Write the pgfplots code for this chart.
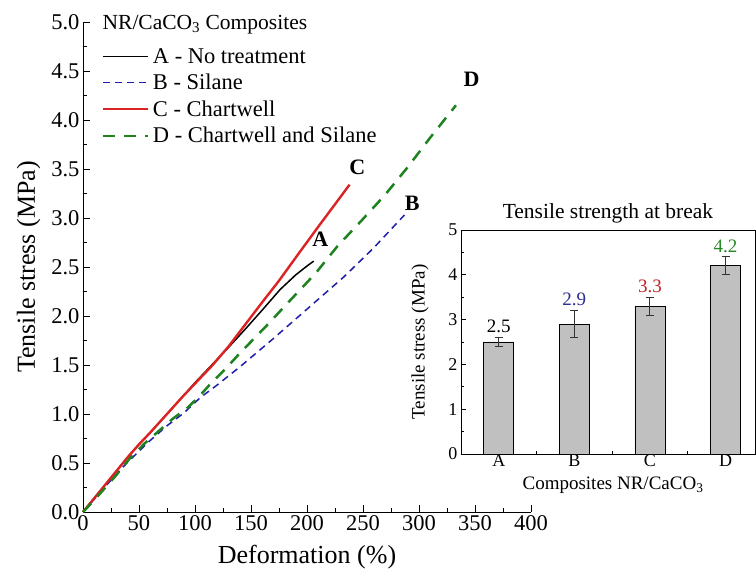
\documentclass[border=0pt]{standalone}
\usepackage{pgfplots}
\pgfplotsset{compat=1.18}
\usepackage{fontspec}
\setmainfont{Liberation Serif}

\definecolor{cA}{RGB}{0,0,0}
\definecolor{cB}{RGB}{30,30,170}
\definecolor{cC}{RGB}{220,35,35}
\definecolor{cD}{RGB}{30,130,30}
\definecolor{lblB}{RGB}{45,45,150}
\definecolor{lblC}{RGB}{190,35,35}
\definecolor{lblD}{RGB}{40,135,40}
\definecolor{bargray}{RGB}{192,192,192}

\begin{document}
\begin{tikzpicture}[x=1pt,y=1pt]
\useasboundingbox (0,0) rectangle (756,577);

% main stress-strain curves
\begin{axis}[
  at={(83pt,65pt)}, anchor=south west,
  scale only axis, width=448pt, height=490pt,
  clip=false,
  xmin=0, xmax=400, ymin=0, ymax=5,
  axis x line=bottom, axis y line=left,
  axis line style={-, line width=0.9pt},
  tick align=inside, tick style={line width=0.8pt, black},
  major tick length=7pt, minor tick length=4pt,
  xtick distance=50, ytick distance=0.5,
  minor x tick num=1, minor y tick num=1,
  /pgf/number format/assume math mode=true,
  yticklabel style={/pgf/number format/fixed, /pgf/number format/fixed zerofill, /pgf/number format/precision=1},
  ticklabel style={font=\fontsize{22.5}{24}\selectfont},
  xlabel={Deformation (\%)}, ylabel={Tensile stress (MPa)},
  label style={font=\fontsize{26}{30}\selectfont},
  xlabel style={at={(axis description cs:0.5,-0.06)}, anchor=north},
  ylabel style={at={(axis description cs:-0.087,0.5)}},
  legend style={at={(rel axis cs:0.035,0.955)}, anchor=north west, draw=none, fill=none,
    font=\fontsize{22.5}{26}\selectfont, row sep=5.5pt, nodes={inner xsep=3.5pt}},
  legend cell align=left,
  legend image code/.code={\draw[#1] (0pt,0pt) -- (45pt,0pt);},
]
\addplot[cA, line width=1.5pt] coordinates {
(0,0) (5,0.07) (10,0.14) (20,0.28) (30,0.42) (40,0.56) (50,0.69) (60,0.81)
(75,1.00) (90,1.19) (100,1.32) (115,1.50) (130,1.68) (146,1.88) (160,2.06)
(176,2.27) (190,2.42) (200,2.51) (206,2.56)};
\addlegendentry{A - No treatment}
\addplot[cB, line width=1.5pt, dash pattern=on 7pt off 5pt] coordinates {
(0,0) (10,0.13) (20,0.26) (30,0.39) (40,0.51) (50,0.62) (57,0.70) (75,0.88)
(90,1.01) (105,1.17) (118,1.28) (140,1.48) (170,1.77) (203,2.10) (233,2.40)
(260,2.70) (282,2.97) (287,3.03)};
\addlegendentry{B - Silane}
\addplot[cC, line width=2.4pt] coordinates {
(0,0) (5,0.07) (10,0.14) (20,0.28) (30,0.42) (40,0.56) (50,0.69) (60,0.81)
(75,1.00) (90,1.19) (100,1.31) (115,1.49) (130,1.69) (146,1.93) (160,2.14)
(175,2.36) (194,2.66) (210,2.91) (225,3.14) (238,3.34)};
\addlegendentry{C - Chartwell}
\addplot[cD, line width=2.5pt, dash pattern=on 12pt off 9pt] coordinates {
(0,0) (10,0.12) (20,0.25) (30,0.38) (42,0.55) (55,0.70) (69,0.84) (80,0.95)
(93,1.06) (103,1.17) (114,1.31) (128,1.47) (140,1.62) (163,1.89) (185,2.16)
(208,2.44) (227,2.71) (250,2.99) (270,3.24) (290,3.52) (310,3.82) (333,4.15)};
\addlegendentry{D - Chartwell and Silane}
\node[anchor=base west, font=\fontsize{21.5}{24}\selectfont] at (rel axis cs:0.036,0.985) {NR/CaCO\textsubscript{3} Composites};
\node[font=\fontsize{22}{24}\selectfont\bfseries] at (axis cs:212,2.78) {A};
\node[font=\fontsize{22}{24}\selectfont\bfseries] at (axis cs:294,3.15) {B};
\node[font=\fontsize{22}{24}\selectfont\bfseries] at (axis cs:245,3.52) {C};
\node[font=\fontsize{22}{24}\selectfont\bfseries] at (axis cs:347,4.42) {D};
\end{axis}

% inset: tensile strength at break
\begin{axis}[
  at={(461pt,123pt)}, anchor=south west,
  scale only axis, width=294pt, height=224pt,
  clip=false,
  xmin=-0.5, xmax=3.39, ymin=0, ymax=5,
  axis line style={line width=0.8pt},
  tick align=inside, tick style={line width=0.7pt, black},
  major tick length=5pt, minor tick length=3pt,
  xtick={0,1,2,3}, xticklabels={A,B,C,D}, minor xtick={0.5,1.5,2.5},
  ytick={0,1,2,3,4,5}, minor y tick num=1,
  xtick pos=bottom, ytick pos=left,
  /pgf/number format/assume math mode=true,
  ticklabel style={font=\fontsize{18}{20}\selectfont},
  xticklabel style={yshift=3pt},
  title={Tensile strength at break},
  title style={font=\fontsize{21.5}{24}\selectfont, at={(axis description cs:0.5,1)}, anchor=south, yshift=-3pt},
  xlabel={Composites NR/CaCO\textsubscript{3}}, ylabel={Tensile stress (MPa)},
  label style={font=\fontsize{19}{20}\selectfont},
  xlabel style={at={(axis description cs:0.517,-0.085)}, anchor=north},
  ylabel style={yshift=13pt},
]
\addplot[ybar, bar width=30pt, fill=bargray, draw=black, line width=0.7pt,
  error bars/.cd, y dir=both, y explicit,
  error bar style={line width=1.1pt, black!80},
  error mark options={rotate=90, mark size=4pt, line width=1.1pt, black!80}]
  coordinates {(0,2.5) +- (0,0.1) (1,2.9) +- (0,0.3) (2,3.3) +- (0,0.2) (3,4.2) +- (0,0.2)};
\node[anchor=south, font=\fontsize{19}{20}\selectfont] at (axis cs:0,2.62) {2.5};
\node[anchor=south, text=lblB, font=\fontsize{19}{20}\selectfont] at (axis cs:1,3.22) {2.9};
\node[anchor=south, text=lblC, font=\fontsize{19}{20}\selectfont] at (axis cs:2,3.52) {3.3};
\node[anchor=south, text=lblD, font=\fontsize{19}{20}\selectfont] at (axis cs:3,4.42) {4.2};
\end{axis}
\end{tikzpicture}
\end{document}
